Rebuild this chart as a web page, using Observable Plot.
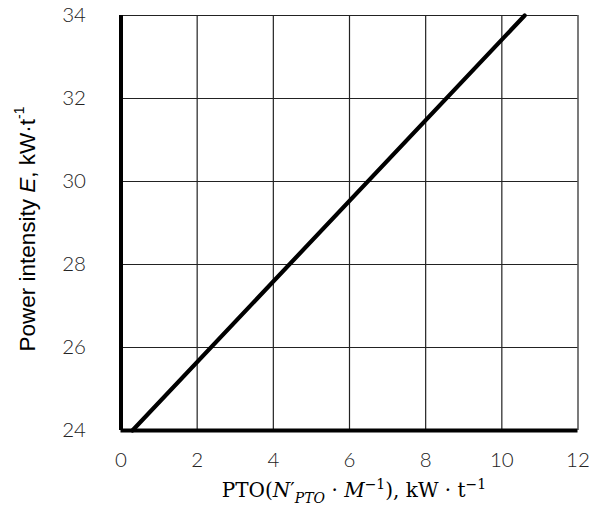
<!DOCTYPE html>
<html>
<head>
<meta charset="utf-8">
<script src="https://cdn.jsdelivr.net/npm/d3@7"></script>
<script src="https://cdn.jsdelivr.net/npm/@observablehq/plot@0.6"></script>
<style>
  html, body { margin: 0; padding: 0; background: #fff; }
  #chart { width: 589px; height: 506px; }
</style>
</head>
<body>
<div id="chart"></div>
<script>
// Tick values
const xTicks = [0, 2, 4, 6, 8, 10, 12];
const yTicks = [24, 26, 28, 30, 32, 34];
// Series: power intensity vs PTO
const ptoValues = [0.3, 10.6];
const energyValues = [24, 34];

const data = ptoValues.map((x, i) => ({x, y: energyValues[i]}));

const chart = Plot.plot({
  width: 589,
  height: 506,
  marginLeft: 120.5,
  marginRight: 11.5,
  marginTop: 15,
  marginBottom: 76,
  style: {fontFamily: "Lato, 'Open Sans', sans-serif", background: "#fff", overflow: "visible"},
  x: {domain: [0, 12]},
  y: {domain: [24, 34]},
  marks: [
    Plot.gridX(xTicks.slice(1), {stroke: "#222", strokeOpacity: 1, strokeWidth: 1.2}),
    Plot.gridY(yTicks.slice(1), {stroke: "#222", strokeOpacity: 1, strokeWidth: 1.2}),
    Plot.axisX(xTicks, {tickSize: 0, tickPadding: 22, fontSize: 20.5, fontWeight: 300, fill: "#222", label: null}),
    Plot.axisY(yTicks, {tickSize: 0, tickPadding: 35, fontSize: 20.5, fontWeight: 300, fill: "#222", label: null}),
    Plot.line(data, {x: "x", y: "y", stroke: "#000", strokeWidth: 4.2}),
    Plot.ruleX([0], {stroke: "#000", strokeWidth: 4}),
    Plot.ruleY([24], {stroke: "#000", strokeWidth: 4})
  ]
});

document.getElementById("chart").appendChild(chart);

const svg = d3.select(chart);

// Y axis label
const yl = svg.append("text")
  .attr("transform", "translate(34.5,229) rotate(-90)")
  .attr("text-anchor", "middle")
  .attr("font-family", "'Liberation Sans', Arial, sans-serif")
  .attr("font-size", 22.5)
  .attr("fill", "#000");
yl.append("tspan").text("Power intensity ");
yl.append("tspan").attr("font-style", "italic").text("E");
yl.append("tspan").text(", kW·t");
yl.append("tspan").attr("font-size", 14).attr("dy", "-0.75em").text("-1");

// X axis label
const xl = svg.append("text")
  .attr("x", 354)
  .attr("y", 497)
  .attr("text-anchor", "middle")
  .attr("font-family", "'DejaVu Serif', 'Liberation Serif', serif")
  .attr("font-size", 20)
  .attr("fill", "#000");
xl.append("tspan").text("PTO(");
xl.append("tspan").attr("font-style", "italic").text("N");
xl.append("tspan").text("′");
xl.append("tspan").attr("font-style", "italic").attr("font-size", 14).attr("dy", 6).text("PTO");
xl.append("tspan").attr("dy", -6).text(" · ");
xl.append("tspan").attr("font-style", "italic").text("M");
xl.append("tspan").attr("font-size", 14).attr("dy", -8).text("−1");
xl.append("tspan").attr("dy", 8).text("), kW · t");
xl.append("tspan").attr("font-size", 14).attr("dy", -8).text("−1");
</script>
</body>
</html>
